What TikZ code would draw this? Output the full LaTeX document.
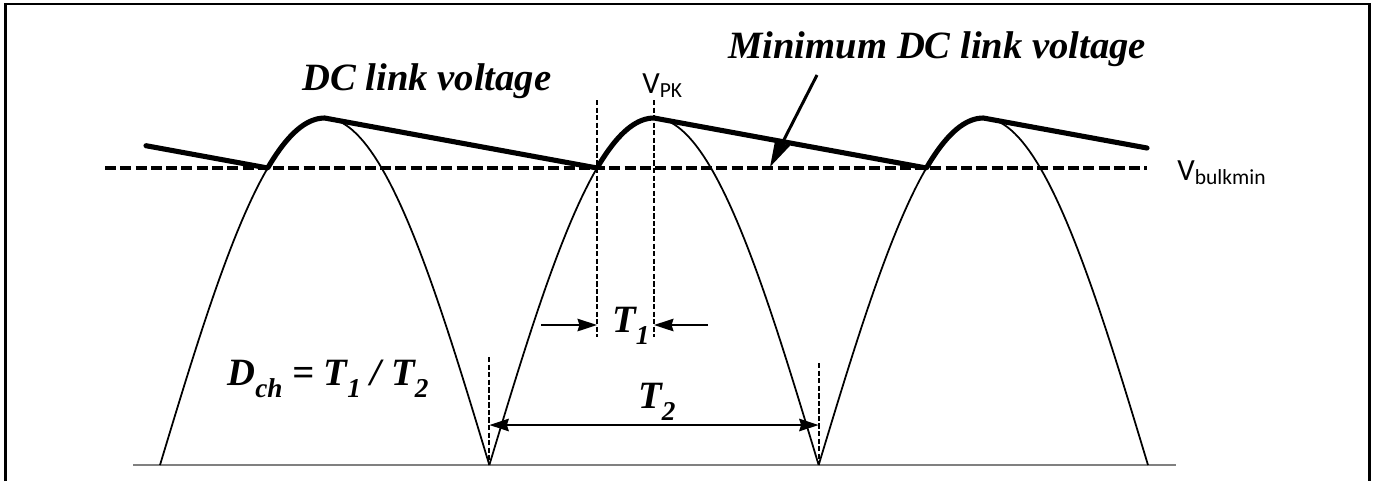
\documentclass[tikz,border=0pt]{standalone}
\usepackage{fontspec}
\setmainfont{Liberation Serif}
\newfontfamily\calibri{Carlito}
\usetikzlibrary{arrows.meta, positioning}
\newcommand\lowsub[1]{\raisebox{-7pt}{\fontsize{15.5}{16}\selectfont #1}}
\tikzset{
  wave line/.style={line width=1pt, draw=black},
  link line/.style={line width=2.9pt, draw=black, line join=round, line cap=round},
  ground line/.style={line width=1.1pt, draw=black!50},
  bulk line/.style={line width=2pt, dash pattern=on 6.3pt off 2.4pt},
  mark line/.style={line width=1.1pt, dash pattern=on 3pt off 1.3pt},
  dim arrow/.style={line width=1.5pt, -{Stealth[length=11pt, width=7pt, inset=1pt]}},
  dim both/.style={line width=1.5pt, {Stealth[length=11pt, width=7pt, inset=1pt]}-{Stealth[length=11pt, width=7pt, inset=1pt]}},
  big label/.style={font=\fontsize{22}{24}\selectfont\bfseries\itshape, inner sep=0pt},
  volt label/.style={font=\fontsize{17.5}{20}\selectfont\calibri, inner sep=0pt}
}

\begin{document}
\begin{tikzpicture}[x=0.02cm, y=-0.02cm]
  \useasboundingbox (0,0) rectangle (1375,481);
  % frame (open at the bottom)
  \draw[line width=1.7pt] (5.5,481) -- (5.5,4) -- (1369.5,4) -- (1369.5,481);

  % key points of the waveform
  \coordinate (z0) at (160,465);
  \coordinate (z1) at (489.33,465);
  \coordinate (z2) at (818.67,465);
  \coordinate (c1) at (597,168);
  \coordinate (p1) at (654,118);

  % ground and rectified sine
  \draw[ground line] (133,465) -- (1176,465);
  \foreach \k in {0,1,2}
    \draw[wave line] plot[domain=0:329.33, samples=90]
      ({160+\k*329.33+\x}, {465-347*sin(\x/329.33*180)});

  % minimum level
  \draw[bulk line] (105,168) -- (1147,168);

  % DC link voltage
  \draw[link line] (146,145.7)
    -- plot[domain=107.7:164.67, samples=20] ({160+\x}, {465-347*sin(\x/329.33*180)})
    -- plot[domain=107.7:164.67, samples=20] ({489.33+\x}, {465-347*sin(\x/329.33*180)})
    -- plot[domain=107.7:164.67, samples=20] ({818.67+\x}, {465-347*sin(\x/329.33*180)})
    -- (1147,148);

  % labels
  \node (dclink) [big label, anchor=base west] at (302,90) {DC link voltage};
  \node (minlink) [big label, anchor=base west] at (728,58) {Minimum DC link voltage};
  \node (vpk) [volt label, anchor=base west] at (642,93) {V\textsubscript{PK}};
  \node (vbulk) [volt label, anchor=base west] at (1177,180) {V\textsubscript{bulkmin}};
  \node (dch) [big label, anchor=base west] at (227,385)
    {D\lowsub{ch} = T\lowsub{1} / T\lowsub{2}};
  \node (t1) [big label, anchor=base west] at (612,332) {T\lowsub{1}};
  \node (t2) [big label, anchor=base west] at (638,408) {T\lowsub{2}};

  % pointer to the minimum level
  \coordinate (minfrom) at (817,75);
  \coordinate (minto) at (770,167);
  \draw[line width=1.7pt, -{Stealth[length=16pt, width=9pt, inset=1pt]}] (minfrom) -- (minto);

  % T1 markers
  \coordinate (c1top) at (597,100);
  \coordinate (c1bot) at (597,337);
  \coordinate (p1top) at (654,100);
  \coordinate (p1bot) at (654,337);
  \draw[mark line] (c1top) -- (c1bot);
  \draw[mark line] (p1top) -- (p1bot);
  \coordinate (t1l) at (541,325);
  \coordinate (t1lend) at (597,325);
  \coordinate (t1r) at (708,325);
  \coordinate (t1rend) at (654,325);
  \draw[dim arrow] (t1l) -- (t1lend);
  \draw[dim arrow] (t1r) -- (t1rend);

  % T2 markers
  \coordinate (z1top) at (489.33,357);
  \coordinate (z2top) at (818.67,363);
  \draw[mark line] (z1top) -- (z1);
  \draw[mark line] (z2top) -- (z2);
  \coordinate (t2l) at (489.33,425);
  \coordinate (t2r) at (818.67,425);
  \draw[dim both] (t2l) -- (t2r);
\end{tikzpicture}
\end{document}
